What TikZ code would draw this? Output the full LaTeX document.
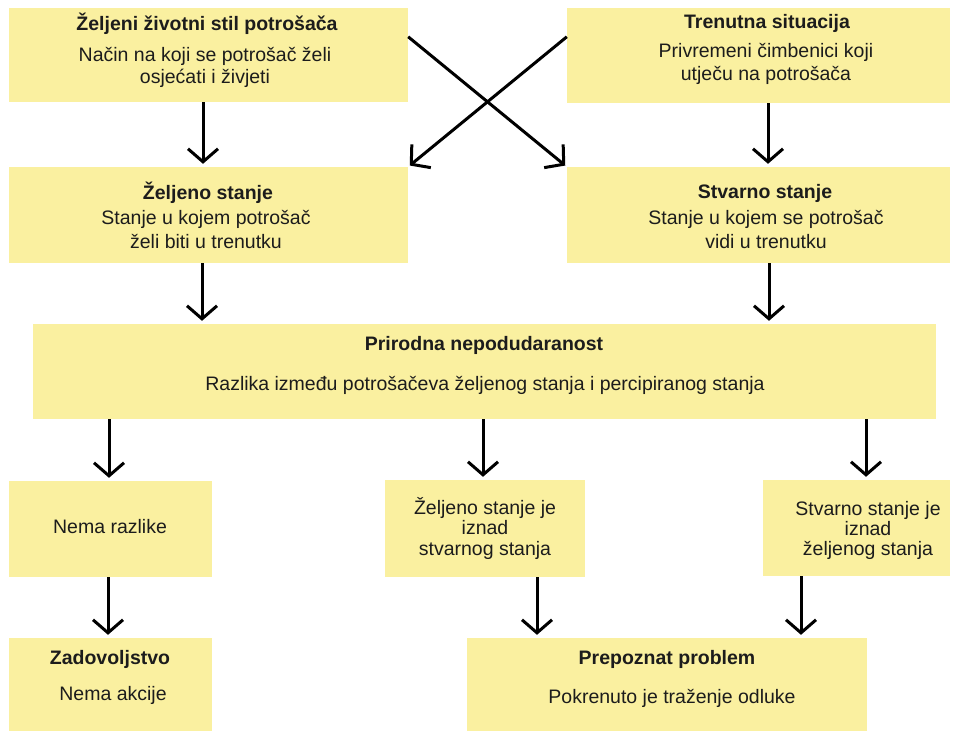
\documentclass[tikz,border=0pt]{standalone}
\usepackage{fontspec}
\setmainfont{Liberation Sans}
\usetikzlibrary{arrows.meta,calc}
\definecolor{boxyellow}{RGB}{250,240,160}
\definecolor{ink}{RGB}{28,28,28}
\tikzset{
  box/.style={fill=boxyellow, draw=none, inner sep=0pt, rectangle},
  txt/.style={anchor=base, inner sep=0pt, text=ink, font=\fontsize{19.5}{22}\selectfont},
  ttl/.style={txt, font=\fontsize{19.5}{22}\selectfont\bfseries},
  arr/.style={line width=3pt, draw=black, -{Straight Barb[length=13pt,width=30pt,line width=3pt]}, shorten >=3pt}
}
\begin{document}
\begin{tikzpicture}[x=1pt,y=-1pt]
\useasboundingbox (0,0) rectangle (954,731);
\fill[white] (0,0) rectangle (954,731);
% boxes
\node[box, minimum width=399pt, minimum height=94pt] (A) at (208.5,55) {};
\node[box, minimum width=383pt, minimum height=95pt] (B) at (758.5,55.5) {};
\node[box, minimum width=399pt, minimum height=96pt] (C) at (208.5,215) {};
\node[box, minimum width=383pt, minimum height=96pt] (D) at (758.5,215) {};
\node[box, minimum width=903pt, minimum height=95pt] (E) at (484.5,371.5) {};
\node[box, minimum width=203pt, minimum height=96pt] (F) at (110.5,529) {};
\node[box, minimum width=200pt, minimum height=97pt] (G) at (485,528.5) {};
\node[box, minimum width=187pt, minimum height=96pt] (H) at (856.5,528) {};
\node[box, minimum width=203pt, minimum height=93pt] (I) at (110.5,684.5) {};
\node[box, minimum width=400pt, minimum height=93pt] (J) at (667,684.5) {};
% texts
\node[ttl] (tA1) at (207,30) {Željeni životni stil potrošača};
\node[txt] (tA2) at (205,61) {Način na koji se potrošač želi};
\node[txt] (tA3) at (205,83) {osjećati i živjeti};
\node[ttl] (tB1) at (767,28) {Trenutna situacija};
\node[txt] (tB2) at (766,57) {Privremeni čimbenici koji};
\node[txt] (tB3) at (766,80) {utječu na potrošača};
\node[ttl] (tC1) at (208,199) {Željeno stanje};
\node[txt] (tC2) at (206,224) {Stanje u kojem potrošač};
\node[txt] (tC3) at (206,248) {želi biti u trenutku};
\node[ttl] (tD1) at (765,198) {Stvarno stanje};
\node[txt] (tD2) at (766,224) {Stanje u kojem se potrošač};
\node[txt] (tD3) at (766,248) {vidi u trenutku};
\node[ttl] (tE1) at (484,350) {Prirodna nepodudaranost};
\node[txt] (tE2) at (485,390) {Razlika između potrošačeva željenog stanja i percipiranog stanja};
\node[txt] (tF1) at (110,533) {Nema razlike};
\node[txt] (tG1) at (485,514) {Željeno stanje je};
\node[txt] (tG2) at (485,534) {iznad};
\node[txt] (tG3) at (485,555) {stvarnog stanja};
\node[txt] (tH1) at (868,515) {Stvarno stanje je};
\node[txt] (tH2) at (868,535) {iznad};
\node[txt] (tH3) at (868,555) {željenog stanja};
\node[ttl] (tI1) at (110,664) {Zadovoljstvo};
\node[txt] (tI2) at (113,700) {Nema akcije};
\node[ttl] (tJ1) at (667,664) {Prepoznat problem};
\node[txt] (tJ2) at (672,703) {Pokrenuto je traženje odluke};
% arrows
\draw[arr] ([xshift=-5.5pt]A.south) -- ([xshift=-5.5pt]A.south |- C.north);
\draw[arr] ([xshift=9.5pt]B.south) -- ([xshift=9.5pt]B.south |- D.north);
\draw[arr, shorten >=2pt] ([yshift=-29pt]A.north east) -- (D.north west);
\draw[arr, shorten >=2pt] ([yshift=-29pt]B.north west) -- (C.north east);
\draw[arr] ([xshift=-6.5pt]C.south) -- ([xshift=-6.5pt]C.south |- E.north);
\draw[arr] ([xshift=10.5pt]D.south) -- ([xshift=10.5pt]D.south |- E.north);
\draw[arr] ([xshift=-1.5pt]F.north |- E.south) -- ([xshift=-1.5pt]F.north);
\draw[arr] ([xshift=-2pt]G.north |- E.south) -- ([xshift=-2pt]G.north);
\draw[arr] ([xshift=9.5pt]H.north |- E.south) -- ([xshift=9.5pt]H.north);
\draw[arr] ([xshift=-2.5pt]F.south) -- ([xshift=-2.5pt]I.north);
\draw[arr] ([xshift=52pt]G.south) -- ([xshift=52pt]G.south |- J.north);
\draw[arr] ([xshift=-55.5pt]H.south) -- ([xshift=-55.5pt]H.south |- J.north);
\end{tikzpicture}
\end{document}
